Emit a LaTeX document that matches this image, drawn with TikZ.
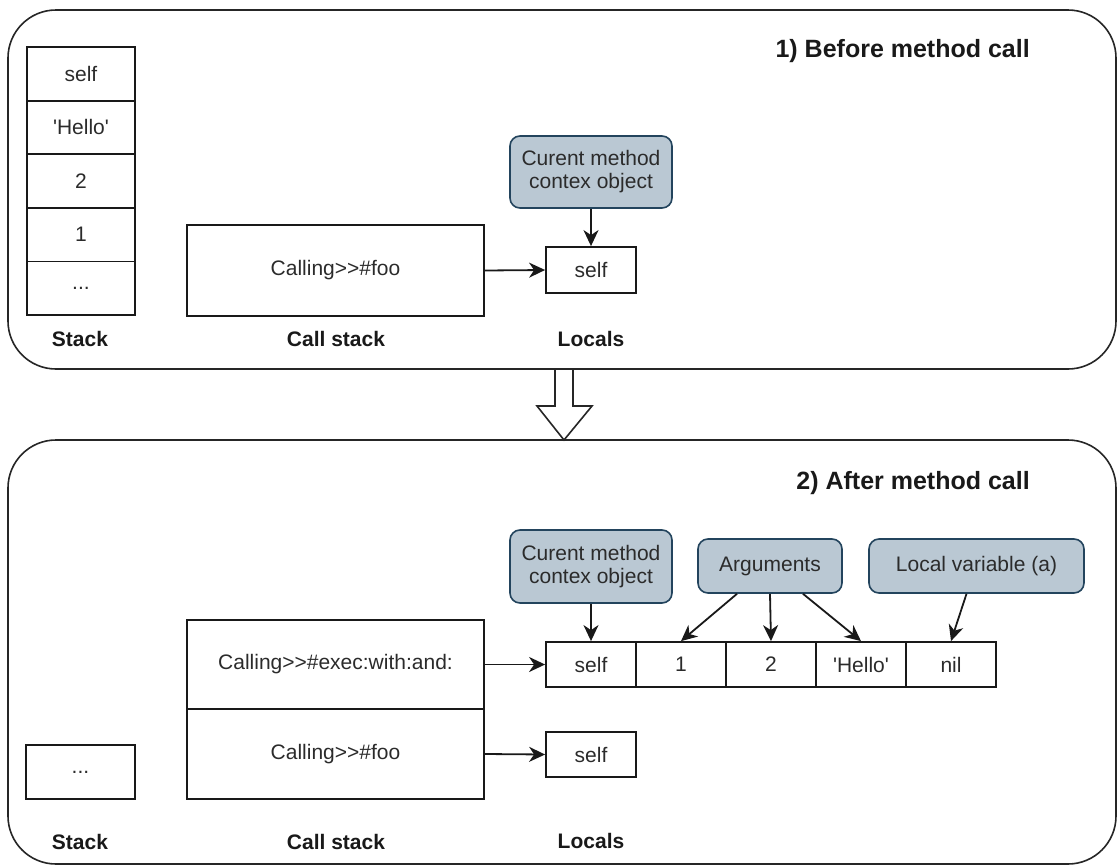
\documentclass[tikz,border=0pt]{standalone}
\usepackage{fontspec}
\setmainfont{Liberation Sans}
\usetikzlibrary{arrows.meta}
\definecolor{boxfill}{HTML}{BAC8D3}
\definecolor{boxline}{HTML}{23445D}
\definecolor{txt}{HTML}{2B2B2B}
\newcommand{\sq}{\textquotesingle}
\tikzset{
  frame/.style={draw=black!85, line width=1.6pt, rounded corners=48pt},
  cell/.style={draw=black!90, line width=1.8pt, inner sep=0pt, text=txt,
    font=\fontsize{21}{25}\selectfont},
  note/.style={draw=boxline, fill=boxfill, line width=1.6pt, rounded corners=10pt,
    inner sep=0pt, align=center, text=txt, font=\fontsize{21}{25}\selectfont},
  lbl/.style={inner sep=0pt, text=black!90, font=\fontsize{21}{25}\selectfont\bfseries},
  ttl/.style={inner sep=0pt, anchor=east, text=black!90, font=\fontsize{25}{30}\selectfont\bfseries},
  conn/.style={draw=black!90, line width=1.8pt, -{Stealth[length=16pt,width=15pt,inset=5pt]}},
}
\begin{document}
\begin{tikzpicture}[x=1pt,y=-1pt]
\useasboundingbox (0,0) rectangle (1117,865);
% containers
\draw[frame] (8,10) rectangle (1116,369);
\draw[frame] (8,440) rectangle (1116,864);
% block arrow between
\draw[line width=1.6pt, draw=black!85, fill=white, line join=miter]
  (555,369) -- (573,369) -- (573,406) -- (592,406) -- (564,440) -- (537,406) -- (555,406) -- cycle;

% ---------- 1) Before method call ----------
\node[ttl] (t1) at (1030,51) {1) Before method call};
\node[cell, minimum width=108pt, minimum height=53.6pt] (s1) at (81,73.8) {self};
\node[cell, minimum width=108pt, minimum height=53.6pt] (s2) at (81,127.4) {\sq Hello\sq};
\node[cell, minimum width=108pt, minimum height=53.6pt] (s3) at (81,181) {2};
\node[cell, minimum width=108pt, minimum height=53.6pt] (s4) at (81,234.6) {1};
\node[cell, minimum width=108pt, minimum height=53.6pt] (s5) at (81,288.2) {...};
\node[lbl] (stk1) at (80,339) {Stack};
\node[cell, minimum width=297pt, minimum height=91pt] (cs) at (335.5,270.5) {Calling>{}>\#foo};
\node[lbl] (csl1) at (336,339) {Call stack};
\node[cell, minimum width=90pt, minimum height=46pt] (self1) at (591,270) {self};
\node[lbl] (loc1) at (591,339) {Locals};
\node[note, minimum width=162pt, minimum height=72pt] (cur1) at (591,172) {Curent method\\[-2pt]contex object};
\draw[conn] (cs.east) -- (self1.west);
\draw[conn] (cur1.south) -- (self1.north);

% ---------- 2) After method call ----------
\node[ttl] (t2) at (1030,483) {2) After method call};
\node[cell, minimum width=109pt, minimum height=54pt] (sd) at (80.5,772) {...};
\node[lbl] (stk2) at (80,842) {Stack};
\node[cell, minimum width=297pt, minimum height=89pt] (csa) at (335.5,664.5) {Calling>{}>\#exec:with:and:};
\node[cell, minimum width=297pt, minimum height=90pt] (csb) at (335.5,754) {Calling>{}>\#foo};
\node[lbl] (csl2) at (336,842) {Call stack};
\node[cell, minimum width=90pt, minimum height=45pt] (la) at (591,664.5) {self};
\node[cell, minimum width=90pt, minimum height=45pt] (lb) at (681,664.5) {1};
\node[cell, minimum width=90pt, minimum height=45pt] (lc) at (771,664.5) {2};
\node[cell, minimum width=90pt, minimum height=45pt] (ld) at (861,664.5) {\sq Hello\sq};
\node[cell, minimum width=90pt, minimum height=45pt] (le) at (951,664.5) {nil};
\node[cell, minimum width=90pt, minimum height=45pt] (self2) at (591,754.5) {self};
\node[lbl] (loc2) at (591,841) {Locals};
\node[note, minimum width=162pt, minimum height=73pt] (cur2) at (591,566.5) {Curent method\\[-2pt]contex object};
\node[note, minimum width=144pt, minimum height=54pt] (args) at (770,566) {Arguments};
\node[note, minimum width=215pt, minimum height=54pt] (lv) at (976.5,566) {Local variable (a)};
\draw[conn] (csa.east) -- (la.west);
\draw[conn] (csb.east) -- (self2.west);
\draw[conn] (cur2.south) -- (la.north);
\draw[conn] ([xshift=-33pt]args.south) -- (lb.north);
\draw[conn] (args.south) -- (lc.north);
\draw[conn] ([xshift=33pt]args.south) -- (ld.north);
\draw[conn] ([xshift=-10pt]lv.south) -- (le.north);
\end{tikzpicture}
\end{document}
